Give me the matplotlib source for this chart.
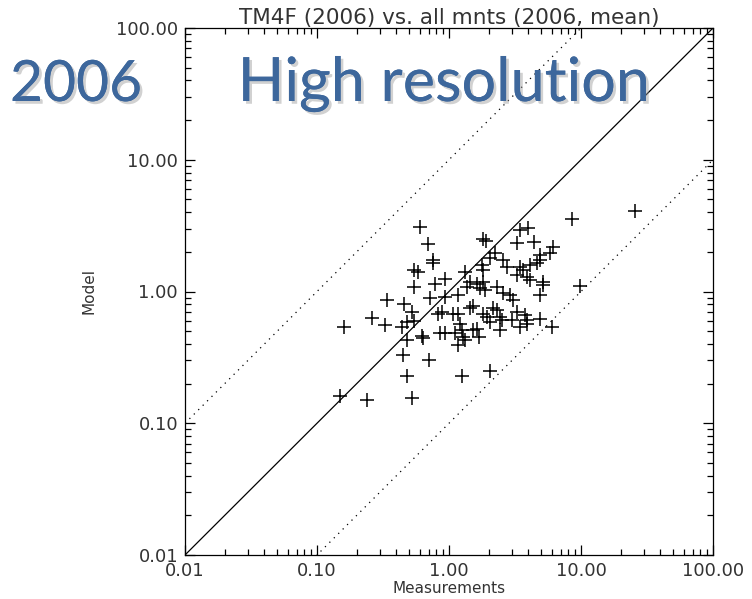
import numpy as np
import matplotlib
matplotlib.use("Agg")
import matplotlib.pyplot as plt
import matplotlib.patheffects as pe
from matplotlib.ticker import FixedLocator, LogLocator, NullFormatter

meas = [
    0.60, 0.69, 0.76, 0.76, 0.54, 0.58, 0.54, 0.79, 0.93, 0.34, 0.72, 0.93,
    0.46, 0.52, 0.83, 0.16, 0.26, 0.33, 0.44, 0.48, 0.54, 0.48, 0.62, 0.64,
    0.86, 0.93, 0.45, 0.70, 0.48, 0.15, 0.24, 0.52,
    1.82, 1.91, 3.45, 3.99, 3.29, 4.41, 6.17, 5.82, 4.89, 2.23, 2.05, 1.77,
    1.82, 1.32, 2.58, 2.74, 3.45, 3.66, 3.26, 3.88, 4.11, 4.62, 4.89, 5.18,
    4.11, 1.62, 1.82, 1.44, 1.36, 1.18, 1.72, 1.87, 2.30, 2.58, 2.90,
    4.89, 3.07, 1.53, 1.44, 2.17, 2.30, 0.88, 1.08, 1.18, 1.82, 1.93, 2.05,
    2.43, 2.51, 2.99, 3.26, 3.77, 3.88, 4.89, 6.00, 1.21, 1.25, 1.53, 1.62,
    1.70, 2.43, 3.45, 3.88, 1.11, 1.28, 1.32, 1.18, 2.05, 1.25,
    8.5, 25.6, 5.18, 9.8,
]
model = [
    3.10, 2.28, 1.73, 1.64, 1.46, 1.41, 1.08, 1.15, 1.24, 0.86, 0.89, 0.91,
    0.80, 0.70, 0.68, 0.54, 0.63, 0.56, 0.54, 0.59, 0.60, 0.43, 0.46, 0.44,
    0.48, 0.48, 0.33, 0.30, 0.23, 0.16, 0.15, 0.155,
    2.49, 2.42, 2.93, 3.02, 2.35, 2.39, 2.19, 1.95, 1.89, 1.95, 1.79, 1.59,
    1.46, 1.41, 1.73, 1.54, 1.54, 1.46, 1.33, 1.29, 1.59, 1.64, 1.73, 1.19,
    1.22, 1.15, 1.19, 1.19, 1.09, 0.94, 1.06, 1.03, 1.09, 0.97, 0.94,
    0.94, 0.86, 0.77, 0.75, 0.75, 0.72, 0.70, 0.68, 0.68, 0.68, 0.64, 0.59,
    0.64, 0.61, 0.61, 0.70, 0.66, 0.61, 0.615, 0.54, 0.57, 0.51, 0.51, 0.52,
    0.45, 0.51, 0.54, 0.57, 0.48, 0.45, 0.43, 0.39, 0.25, 0.23,
    3.53, 4.10, 1.12, 1.11,
]

decades = [0.01, 0.1, 1, 10, 100]
tick_labels = ["0.01", "0.10", "1.00", "10.00", "100.00"]

fig = plt.figure(figsize=(7.52, 5.99), dpi=100)
ax = fig.add_axes([185 / 752, 44 / 599, 528 / 752, 527 / 599])

ref = np.array([0.01, 100])
ax.plot(ref, ref, color="black", lw=0.9)
ax.plot(ref, ref * 10, color="black", lw=0.9, ls=(0, (1, 4)))
ax.plot(ref, ref / 10, color="black", lw=0.9, ls=(0, (1, 4)))
ax.plot(meas, model, ls="none", marker="+", ms=10.5, mew=1.1, color="black")

ax.set_xscale("log")
ax.set_yscale("log")
ax.set_xlim(0.01, 100)
ax.set_ylim(0.01, 100)

for axis in (ax.xaxis, ax.yaxis):
    axis.set_major_locator(FixedLocator(decades))
    axis.set_minor_locator(LogLocator(base=10, subs=np.arange(2, 10)))
    axis.set_minor_formatter(NullFormatter())
ax.set_xticklabels(tick_labels)
ax.set_yticklabels(tick_labels)
ax.tick_params(which="both", direction="in", top=True, right=True,
               labelsize=13, colors="black", labelcolor="#333333", pad=5)
ax.tick_params(which="major", length=7, width=0.9)
ax.tick_params(which="minor", length=4, width=0.9)
for s in ax.spines.values():
    s.set_linewidth(0.9)

ax.set_title("TM4F (2006) vs. all mnts (2006, mean)", fontsize=15.5,
             color="#333333", pad=3)
ax.set_xlabel("Measurements", fontsize=11, color="#333333", labelpad=1)
ax.set_ylabel("Model", fontsize=11, color="#333333", labelpad=14)

shadow = [pe.withSimplePatchShadow(offset=(2, -2), shadow_rgbFace="#999999", alpha=0.45),
          pe.Normal()]
fig.text(10 / 752, 1 - 101 / 599, "2006", fontsize=41, family="Lato",
         color="#3D679C", ha="left", va="baseline", path_effects=shadow)
fig.text(444 / 752, 1 - 101 / 599, "High resolution", fontsize=44, family="Lato",
         color="#3D679C", ha="center", va="baseline", path_effects=shadow)

fig.savefig("out.png", dpi=100)
